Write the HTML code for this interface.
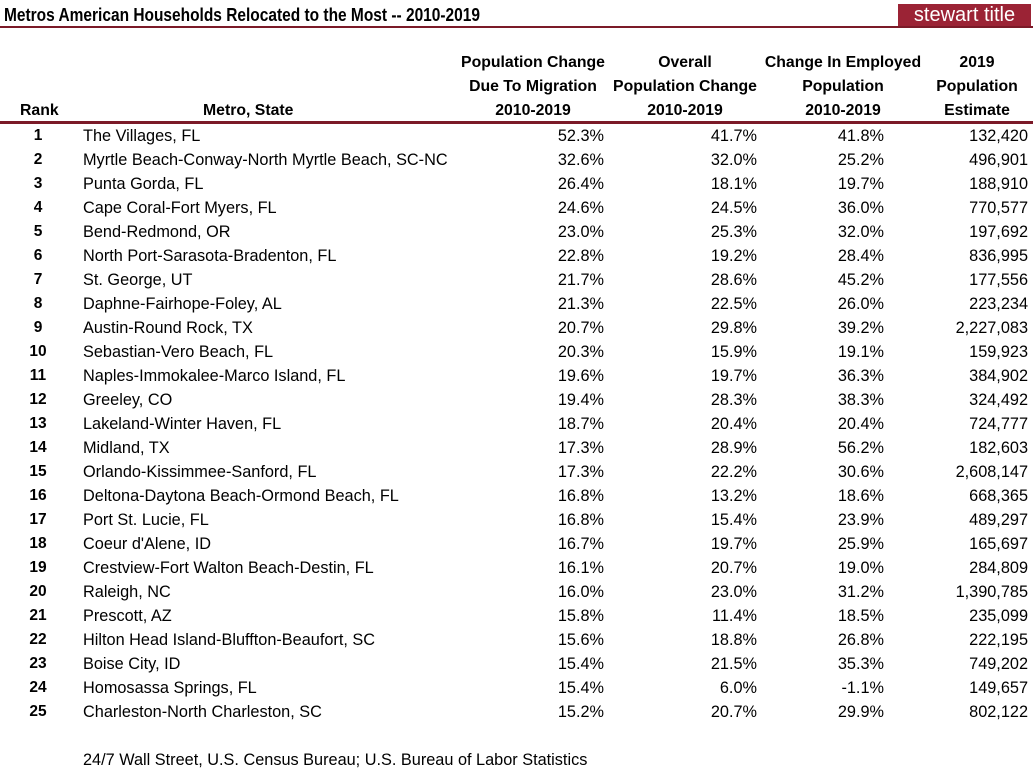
<!DOCTYPE html><html><head><style>
body{margin:0;width:1033px;height:773px;background:#fff;position:relative;font-family:"Liberation Sans",sans-serif;color:#000;overflow:hidden}
.t{position:absolute;white-space:nowrap;font-size:16.3px;line-height:20px}
.h{font-weight:bold;text-align:center;width:180px;font-size:15.8px}
.r{text-align:right}
</style></head><body>
<div class="t" style="left:4px;top:5px;font-size:18px;font-weight:bold;transform:scaleX(0.86);transform-origin:left">Metros American Households Relocated to the Most -- 2010-2019</div>
<div style="position:absolute;left:898px;top:4px;width:133px;height:23px;background:#9b2335;color:#fff;font-size:20px;line-height:23px;text-align:center">stewart title</div>
<div style="position:absolute;left:0;top:26px;width:1033px;height:2px;background:#7b1a28"></div>
<div style="position:absolute;left:0;top:121px;width:1033px;height:3px;background:#7b1a28"></div>
<div id="c"></div>
<script>
var H=[[533,["Population Change","Due To Migration","2010-2019"]],[685,["Overall","Population Change","2010-2019"]],[843,["Change In Employed","Population","2010-2019"]],[977,["2019","Population","Estimate"]]];
var s="";
H.forEach(function(h){h[1].forEach(function(l,i){s+='<div class="t h" style="left:'+(h[0]-90)+'px;top:'+(53+i*24)+'px">'+l+'</div>';});});
s+='<div class="t" style="left:20px;top:101px;font-weight:bold;font-size:15.8px">Rank</div><div class="t" style="left:203px;top:101px;font-weight:bold;font-size:15.8px">Metro, State</div>';
var D=[["The Villages, FL","52.3%","41.7%","41.8%","132,420"],["Myrtle Beach-Conway-North Myrtle Beach, SC-NC","32.6%","32.0%","25.2%","496,901"],["Punta Gorda, FL","26.4%","18.1%","19.7%","188,910"],["Cape Coral-Fort Myers, FL","24.6%","24.5%","36.0%","770,577"],["Bend-Redmond, OR","23.0%","25.3%","32.0%","197,692"],["North Port-Sarasota-Bradenton, FL","22.8%","19.2%","28.4%","836,995"],["St. George, UT","21.7%","28.6%","45.2%","177,556"],["Daphne-Fairhope-Foley, AL","21.3%","22.5%","26.0%","223,234"],["Austin-Round Rock, TX","20.7%","29.8%","39.2%","2,227,083"],["Sebastian-Vero Beach, FL","20.3%","15.9%","19.1%","159,923"],["Naples-Immokalee-Marco Island, FL","19.6%","19.7%","36.3%","384,902"],["Greeley, CO","19.4%","28.3%","38.3%","324,492"],["Lakeland-Winter Haven, FL","18.7%","20.4%","20.4%","724,777"],["Midland, TX","17.3%","28.9%","56.2%","182,603"],["Orlando-Kissimmee-Sanford, FL","17.3%","22.2%","30.6%","2,608,147"],["Deltona-Daytona Beach-Ormond Beach, FL","16.8%","13.2%","18.6%","668,365"],["Port St. Lucie, FL","16.8%","15.4%","23.9%","489,297"],["Coeur d'Alene, ID","16.7%","19.7%","25.9%","165,697"],["Crestview-Fort Walton Beach-Destin, FL","16.1%","20.7%","19.0%","284,809"],["Raleigh, NC","16.0%","23.0%","31.2%","1,390,785"],["Prescott, AZ","15.8%","11.4%","18.5%","235,099"],["Hilton Head Island-Bluffton-Beaufort, SC","15.6%","18.8%","26.8%","222,195"],["Boise City, ID","15.4%","21.5%","35.3%","749,202"],["Homosassa Springs, FL","15.4%","6.0%","-1.1%","149,657"],["Charleston-North Charleston, SC","15.2%","20.7%","29.9%","802,122"]];
var R=[604,757,884,1028];
D.forEach(function(d,i){var y=126+i*24;
s+='<div class="t" style="left:18px;width:40px;text-align:center;top:'+y+'px;font-weight:bold;font-size:15.5px">'+(i+1)+'</div>';
s+='<div class="t" style="left:83px;top:'+y+'px">'+d[0]+'</div>';
for(var k=0;k<4;k++)s+='<div class="t r" style="left:'+(R[k]-150)+'px;width:150px;top:'+y+'px">'+d[k+1]+'</div>';});
s+='<div class="t" style="left:83px;top:750px">24/7 Wall Street, U.S. Census Bureau; U.S. Bureau of Labor Statistics</div>';
document.getElementById("c").innerHTML=s;
</script></body></html>
